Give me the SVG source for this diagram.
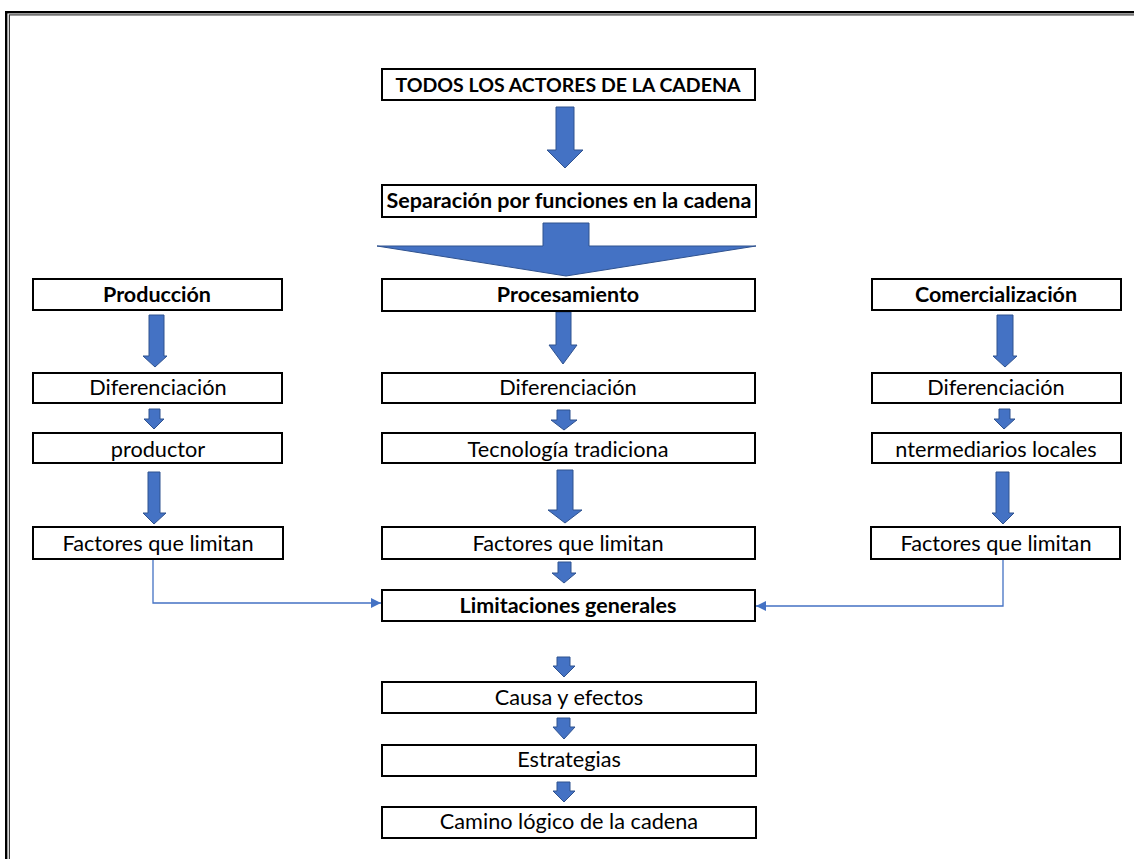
<svg xmlns="http://www.w3.org/2000/svg" width="1134" height="859" viewBox="0 0 1134 859">
  <style>
    .box { fill: #ffffff; stroke: #000000; stroke-width: 2; }
    .t { font-family: Lato, "Open Sans", sans-serif; font-size: 21.7px; fill: #000000; text-anchor: middle; }
    .b { font-weight: bold; font-size: 21.5px; }
    .caps { font-size: 19.5px; }
    .arr { fill: #4472C4; stroke: #2F528F; stroke-width: 1; }
    .link { fill: none; stroke: #4472C4; stroke-width: 1.3; }
  </style>
  <defs>
    <marker id="head" viewBox="0 0 10 10" refX="10" refY="5" markerWidth="10" markerHeight="10" markerUnits="userSpaceOnUse" orient="auto">
      <path d="M0,0 L10,5 L0,10 z" fill="#4472C4"/>
    </marker>
  </defs>

  <rect width="1134" height="859" fill="#ffffff"/>

  <!-- page frame (double rule) -->
  <g id="frame" fill="none">
    <rect x="6.2" y="12.2" width="1200" height="900" stroke="#000000" stroke-width="2.4"/>
    <rect x="9.4" y="14.9" width="1200" height="900" stroke="#3a3a3a" stroke-width="1.2"/>
  </g>

  <!-- block arrows and elbow connectors -->
  <g id="connectors">
    <!-- top -->
    <path class="arr" d="M556,107 H574 V150 H583 L565,168 L547,150 H556 Z"/>
    <path class="arr" d="M543,223 H589 V246 H756 L566,276 L377,246 H543 Z"/>
    <!-- left column -->
    <path class="arr" d="M149,315 H164 V356 H167 L155,367 L143,356 H149 Z"/>
    <path class="arr" d="M149,409 H160 V419 H164 L154,429 L144,419 H149 Z"/>
    <path class="arr" d="M148,472 H160 V513 H166 L154,524 L143,513 H148 Z"/>
    <!-- middle column -->
    <path class="arr" d="M556,312 H571 V345 H577 L563,364 L549,345 H556 Z"/>
    <path class="arr" d="M557,410 H570 V420 H577 L564,430 L551,420 H557 Z"/>
    <path class="arr" d="M557,470 H573 V510 H582 L565,523 L548,510 H557 Z"/>
    <path class="arr" d="M558,562 H571 V573 H576 L564,583 L552,573 H558 Z"/>
    <!-- right column -->
    <path class="arr" d="M997,315 H1013 V356 H1017 L1005,367 L993,356 H997 Z"/>
    <path class="arr" d="M999,409 H1010 V419 H1015 L1004,429 L994,419 H999 Z"/>
    <path class="arr" d="M996,472 H1009 V513 H1014 L1003,524 L992,513 H996 Z"/>
    <!-- lower chain -->
    <path class="arr" d="M557,657 H570 V666 H575 L564,677 L553,666 H557 Z"/>
    <path class="arr" d="M557,718 H570 V727 H575 L564,739 L553,727 H557 Z"/>
    <path class="arr" d="M557,782 H570 V791 H575 L564,802 L553,791 H557 Z"/>
    <!-- side factors into general limitations -->
    <path class="link" d="M153,559 V603 H381" marker-end="url(#head)"/>
    <path class="link" d="M1003,559 V606 H756" marker-end="url(#head)"/>
  </g>

  <g id="n-actores">
    <rect class="box" x="382" y="69" width="373" height="31"/>
    <text class="t b caps" x="568" y="92">TODOS LOS ACTORES DE LA CADENA</text>
  </g>
  <g id="n-separacion">
    <rect class="box" x="382" y="185" width="374" height="32"/>
    <text class="t b" x="569" y="208">Separación por funciones en la cadena</text>
  </g>

  <g id="n-produccion">
    <rect class="box" x="33" y="279" width="249" height="31"/>
    <text class="t b" x="157" y="302">Producción</text>
  </g>
  <g id="n-procesamiento">
    <rect class="box" x="382" y="279" width="373" height="32"/>
    <text class="t b" x="568" y="302">Procesamiento</text>
  </g>
  <g id="n-comercializacion">
    <rect class="box" x="872" y="279" width="249" height="31"/>
    <text class="t b" x="996" y="302">Comercialización</text>
  </g>

  <g id="n-dif-prod">
    <rect class="box" x="33" y="373" width="249" height="30"/>
    <text class="t" x="158" y="395">Diferenciación</text>
  </g>
  <g id="n-dif-proc">
    <rect class="box" x="382" y="373" width="373" height="30"/>
    <text class="t" x="568" y="395">Diferenciación</text>
  </g>
  <g id="n-dif-com">
    <rect class="box" x="872" y="373" width="249" height="30"/>
    <text class="t" x="996" y="395">Diferenciación</text>
  </g>

  <g id="n-productor">
    <rect class="box" x="33" y="433" width="249" height="30"/>
    <text class="t" x="158" y="457">productor</text>
  </g>
  <g id="n-tecnologia">
    <rect class="box" x="382" y="433" width="373" height="30"/>
    <text class="t" x="568" y="457">Tecnología tradiciona</text>
  </g>
  <g id="n-intermediarios">
    <rect class="box" x="872" y="433" width="249" height="30"/>
    <text class="t" x="996" y="457">ntermediarios locales</text>
  </g>

  <g id="n-factores-prod">
    <rect class="box" x="33" y="527" width="250" height="32"/>
    <text class="t" x="158" y="551">Factores que limitan</text>
  </g>
  <g id="n-factores-proc">
    <rect class="box" x="382" y="527" width="373" height="32"/>
    <text class="t" x="568" y="551">Factores que limitan</text>
  </g>
  <g id="n-factores-com">
    <rect class="box" x="871" y="527" width="249" height="32"/>
    <text class="t" x="996" y="551">Factores que limitan</text>
  </g>

  <g id="n-limitaciones">
    <rect class="box" x="382" y="590" width="373" height="31"/>
    <text class="t b" x="568" y="613">Limitaciones generales</text>
  </g>
  <g id="n-causa">
    <rect class="box" x="382" y="682" width="374" height="31"/>
    <text class="t" x="569" y="705">Causa y efectos</text>
  </g>
  <g id="n-estrategias">
    <rect class="box" x="382" y="745" width="374" height="31"/>
    <text class="t" x="569" y="767">Estrategias</text>
  </g>
  <g id="n-camino">
    <rect class="box" x="382" y="807" width="374" height="31"/>
    <text class="t" x="569" y="829">Camino lógico de la cadena</text>
  </g>
</svg>
